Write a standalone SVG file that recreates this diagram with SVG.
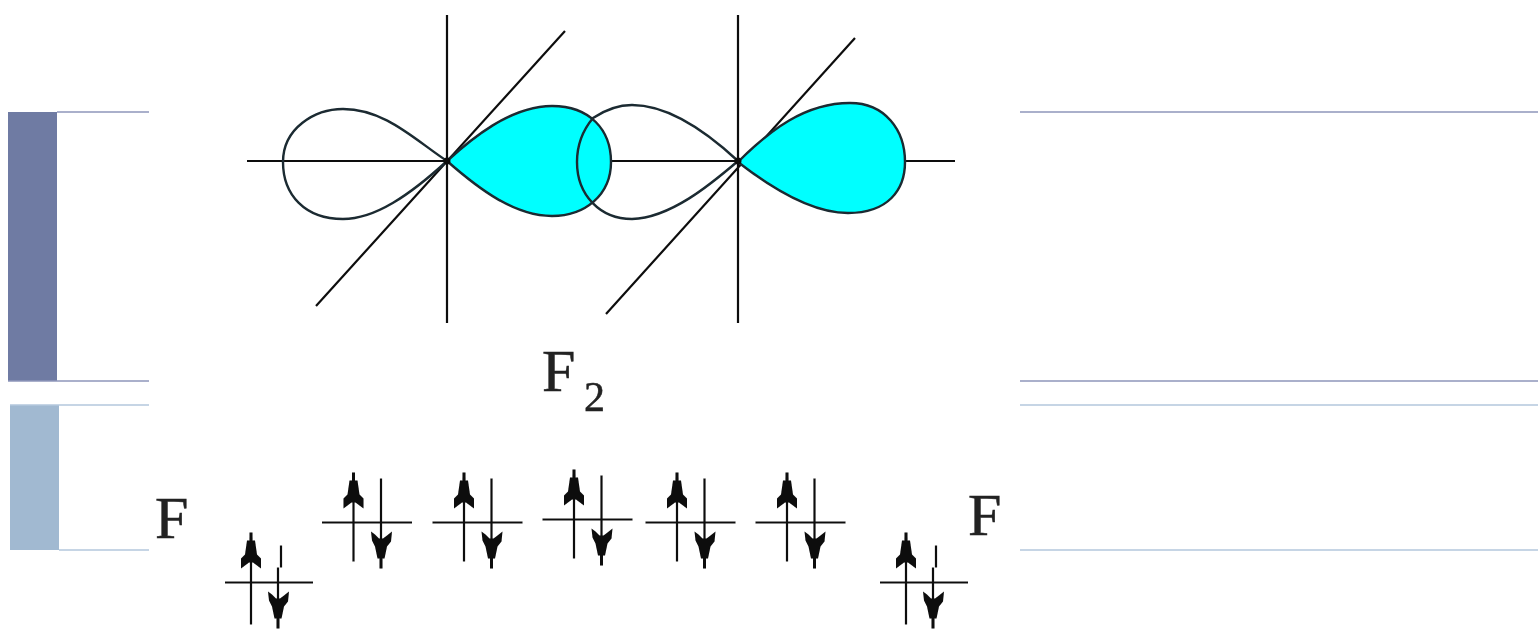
<svg xmlns="http://www.w3.org/2000/svg" width="1538" height="629" viewBox="0 0 1538 629">
<defs>
<style>
.l{stroke:#111;stroke-width:2.2;fill:none}
.lobe{stroke:#1a2a30;stroke-width:2.4;fill:none;stroke-linejoin:round}
.c{fill:#00ffff;stroke:#1a2a30;stroke-width:2.4;stroke-linejoin:round}
.t{font-family:"Liberation Serif",serif;fill:#222;stroke:#222;stroke-width:.5}
.h{fill:#0a0a0a}
</style>
<filter id="soft" x="-5%" y="-5%" width="110%" height="110%"><feGaussianBlur stdDeviation="0.5"/></filter>
<g id="upHead"><path class="h" d="M-1.5 -50H1.5V-42H4L6 -28L10 -24V-14L6 -17L2 -20H-2L-6 -17L-10 -14V-24L-6 -28L-4 -42H-1.5Z"/></g>
<g id="downHead"><path class="h" d="M-1.5 46H1.5V36H3.5L6 24L10 19L11 9L6 13L2 16H-2L-6 12L-10 9L-9 18L-6 24L-3.5 36H-1.5Z"/></g>
<g id="pair">
<path class="l" d="M-45 0H45"/>
<path class="l" d="M-13.5 -45V39"/>
<use href="#upHead" x="-13.5"/>
<path class="l" d="M14 -44V20"/>
<use href="#downHead" x="14"/>
</g>
<g id="pairLow">
<path class="l" d="M-44 0H44"/>
<path class="l" d="M-18 -45V42"/>
<use href="#upHead" x="-18"/>
<path class="l" d="M12 -37V-15M9 -15V20"/>
<use href="#downHead" x="9"/>
</g>
</defs>
<rect width="1538" height="629" fill="#fff"/>
<g id="bars">
<rect x="8" y="112" width="49" height="269" fill="#6f7ba3"/>
<rect x="10" y="405" width="49" height="145" fill="#a1b9d1"/>
<path d="M57 112H149M1020 112H1538M8 381H149M1020 381H1538" stroke="#8f96bb" stroke-width="1.4" fill="none"/>
<path d="M10 405H149M1020 405H1538M59 550H149M1020 550H1538" stroke="#b4c8dd" stroke-width="1.4" fill="none"/>
</g>
<g filter="url(#soft)">
<g id="connectors">
<path class="l" d="M247 161H955"/>
<path class="l" d="M447 15V323M738 15V323M316 306L565 31M606 314L855 38"/>
</g>
<g id="lobes">
<path id="lobe-a-left" class="lobe" d="M447 161C415 140 385 109 343 109C315 109 283 128 283 162C283 195 305 219 343 219C375 219 410 195 447 161Z"/>
<path id="lobe-a-right" class="c" d="M447 161C470 140 510 106 552 106C590 106 611 130 611 162C611 195 585 216 552 216C515 216 480 190 447 161Z"/>
<path id="lobe-b-left" class="lobe" d="M593 118C605 110 618 105 632 105C670 105 710 135 738 161C710 185 670 218 632 219C600 219 577 195 577 162C577 145 583 130 593 118Z"/>
<path id="lobe-b-right" class="c" d="M738 162C770 130 805 103 850 103C885 103 905 130 905 162C905 190 888 213 848 213C810 213 770 187 738 162Z"/>
<circle cx="447" cy="161" r="3.5" fill="#111"/>
<circle cx="738" cy="161" r="3.5" fill="#111"/>
</g>
<g id="orbitals">
<use id="orbital-1" href="#pairLow" x="269" y="582.5"/>
<use id="orbital-2" href="#pair" x="367" y="522.5"/>
<use id="orbital-3" href="#pair" x="477.5" y="522.5"/>
<use id="orbital-4" href="#pair" x="587.5" y="519.5"/>
<use id="orbital-5" href="#pair" x="690.5" y="522.5"/>
<use id="orbital-6" href="#pair" x="800.5" y="522.5"/>
<use id="orbital-7" href="#pairLow" x="924" y="582.5"/>
</g>
<g id="labels">
<text class="t" x="542" y="391" font-size="60">F</text>
<text class="t" x="584" y="411" font-size="42">2</text>
<text class="t" x="155" y="538" font-size="60">F</text>
<text class="t" x="968" y="535" font-size="60">F</text>
</g>
</g>
</svg>
